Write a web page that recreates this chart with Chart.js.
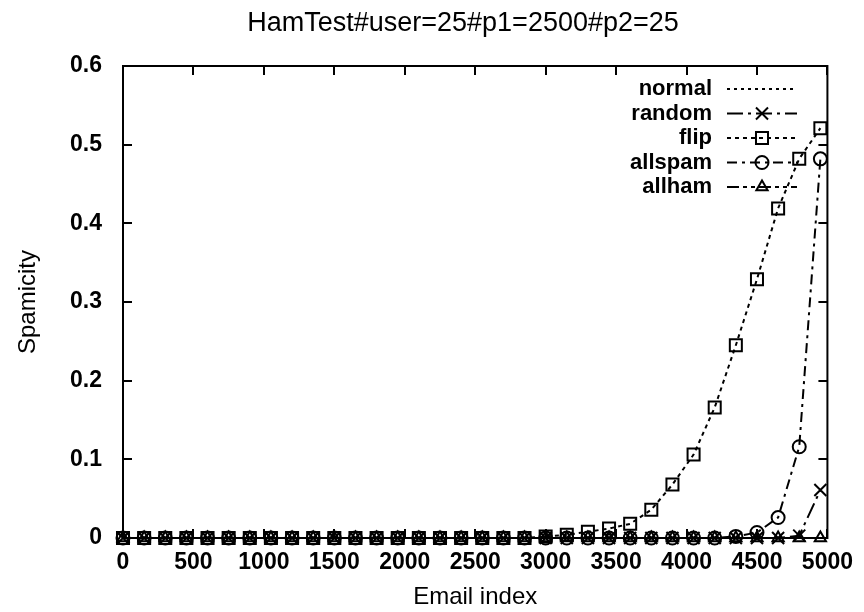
<!DOCTYPE html>
<html>
<head>
<meta charset="utf-8">
<script src="https://cdn.jsdelivr.net/npm/chart.js@4"></script>
<style>
  html, body { margin: 0; padding: 0; background: #fff; }
  #wrap { width: 864px; height: 612px; }
</style>
</head>
<body>
<div id="wrap"><canvas id="spamChart" width="864" height="612"></canvas></div>
<script>
// ── Data ──
const emailIndex = [0, 150, 300, 450, 600, 750, 900, 1050, 1200, 1350, 1500, 1650,
  1800, 1950, 2100, 2250, 2400, 2550, 2700, 2850, 3000, 3150, 3300, 3450, 3600,
  3750, 3900, 4050, 4200, 4350, 4500, 4650, 4800, 4950];

const normalVals = [0, 0, 0, 0, 0, 0, 0, 0, 0, 0, 0, 0, 0, 0, 0, 0, 0,
  0, 0, 0, 0, 0, 0, 0, 0, 0, 0, 0, 0, 0, 0, 0, 0, 0];
const randomVals = [0, 0, 0, 0, 0, 0, 0, 0, 0, 0, 0, 0, 0, 0, 0, 0, 0,
  0, 0, 0, 0, 0, 0, 0, 0, 0, 0, 0, 0, 0, 0, 0, 0.003, 0.061];
const flipVals = [0, 0, 0, 0, 0, 0, 0, 0, 0, 0, 0, 0, 0, 0, 0, 0, 0,
  0, 0, 0, 0.002, 0.004, 0.008, 0.012, 0.018, 0.036, 0.068, 0.106, 0.166,
  0.245, 0.329, 0.419, 0.482, 0.521];
const allspamVals = [0, 0, 0, 0, 0, 0, 0, 0, 0, 0, 0, 0, 0, 0, 0, 0, 0,
  0, 0, 0, 0, 0, 0, 0, 0, 0, 0, 0, 0, 0.002, 0.007, 0.026, 0.116, 0.482];
const allhamVals = [0, 0, 0, 0, 0, 0, 0, 0, 0, 0, 0, 0, 0, 0, 0, 0, 0,
  0, 0, 0, 0, 0, 0, 0, 0, 0, 0, 0, 0, 0, 0, 0, 0, 0];

const xTickVals = [0, 500, 1000, 1500, 2000, 2500, 3000, 3500, 4000, 4500, 5000];
const yTickVals = [0, 0.1, 0.2, 0.3, 0.4, 0.5, 0.6];
const yTickLabels = ['0', '0.1', '0.2', '0.3', '0.4', '0.5', '0.6'];

const chartTitle = 'HamTest#user=25#p1=2500#p2=25';
const FONT = "'Liberation Sans', Arial, Helvetica, sans-serif";

function pts(vals) {
  return vals.map((v, i) => ({ x: emailIndex[i], y: v }));
}

function series(label, vals, dash, style, radius) {
  return {
    label: label,
    data: pts(vals),
    borderColor: '#000',
    borderWidth: 2,
    borderDash: dash,
    backgroundColor: 'rgba(0,0,0,0)',
    pointStyle: style,
    pointRadius: radius,
    pointBorderWidth: 2,
    pointBorderColor: '#000',
    pointBackgroundColor: 'rgba(0,0,0,0)',
    tension: 0,
    fill: false,
    clip: false
  };
}

// ── Title, sits a little right of the page centre ──
const titlePlugin = {
  id: 'plotTitle',
  afterDraw(chart) {
    const ctx = chart.ctx;
    ctx.save();
    ctx.fillStyle = '#000';
    ctx.font = '27px ' + FONT;
    ctx.textAlign = 'center';
    ctx.textBaseline = 'middle';
    ctx.fillText(chartTitle, 463, 24);
    ctx.restore();
  }
};

// ── Frame with inward ticks on all four sides ──
const framePlugin = {
  id: 'frame',
  beforeDatasetsDraw(chart) {
    const ctx = chart.ctx;
    const a = chart.chartArea;
    const xs = chart.scales.x, ys = chart.scales.y;
    const len = 9;
    ctx.save();
    ctx.strokeStyle = '#000';
    ctx.lineWidth = 2;
    ctx.strokeRect(a.left, a.top, a.right - a.left, a.bottom - a.top);
    ctx.beginPath();
    xTickVals.forEach(v => {
      const px = Math.round(xs.getPixelForValue(v));
      ctx.moveTo(px, a.bottom); ctx.lineTo(px, a.bottom - len);
      ctx.moveTo(px, a.top); ctx.lineTo(px, a.top + len);
    });
    yTickVals.forEach(v => {
      const py = Math.round(ys.getPixelForValue(v));
      ctx.moveTo(a.left, py); ctx.lineTo(a.left + len, py);
      ctx.moveTo(a.right, py); ctx.lineTo(a.right - len, py);
    });
    ctx.stroke();
    ctx.restore();
  }
};

// ── Key, right aligned labels with line samples ──
const keyPlugin = {
  id: 'key',
  afterDraw(chart) {
    const ctx = chart.ctx;
    const textRight = 712, lineL = 727, lineR = 797;
    const top = 89, step = 24.5;
    ctx.save();
    chart.data.datasets.forEach((ds, i) => {
      const y = top + i * step;
      ctx.fillStyle = '#000';
      ctx.font = 'bold 22px ' + FONT;
      ctx.textAlign = 'right';
      ctx.textBaseline = 'middle';
      ctx.fillText(ds.label, textRight, y);
      ctx.strokeStyle = '#000';
      ctx.lineWidth = ds.borderWidth;
      ctx.setLineDash(ds.borderDash);
      ctx.beginPath();
      ctx.moveTo(lineL, y);
      ctx.lineTo(lineR, y);
      ctx.stroke();
      ctx.setLineDash([]);
      if (ds.pointRadius > 0 && Chart.helpers && Chart.helpers.drawPoint) {
        ctx.lineWidth = ds.pointBorderWidth;
        ctx.fillStyle = 'rgba(0,0,0,0)';
        Chart.helpers.drawPoint(ctx, {
          pointStyle: ds.pointStyle,
          radius: ds.pointRadius,
          borderWidth: ds.pointBorderWidth,
          rotation: 0
        }, (lineL + lineR) / 2, y);
      }
    });
    ctx.restore();
  }
};

const ctx = document.getElementById('spamChart').getContext('2d');
new Chart(ctx, {
  type: 'line',
  data: {
    datasets: [
      series('normal', normalVals, [3, 4], 'circle', 0),
      series('random', randomVals, [16, 5, 3, 5], 'crossRot', 8.5),
      series('flip', flipVals, [4, 4], 'rect', 8.5),
      series('allspam', allspamVals, [10, 5, 3, 5], 'circle', 6.5),
      series('allham', allhamVals, [12, 4, 4, 4, 4, 4], 'triangle', 6.5)
    ]
  },
  options: {
    responsive: false,
    animation: false,
    layout: { padding: { top: 66, right: 34, left: 0, bottom: 0 } },
    plugins: {
      legend: { display: false },
      tooltip: { enabled: false },
      title: { display: false }
    },
    scales: {
      x: {
        type: 'linear',
        min: 0,
        max: 5000,
        afterBuildTicks: s => { s.ticks = xTickVals.map(v => ({ value: v })); },
        afterFit: s => { s.height = 74; },
        grid: { display: false, drawTicks: false },
        border: { display: false },
        ticks: {
          padding: 11,
          color: '#000',
          maxRotation: 0,
          autoSkip: false,
          font: { family: FONT, size: 23, weight: 'bold' },
          callback: v => String(v)
        },
        title: {
          display: true,
          text: 'Email index',
          color: '#000',
          padding: 0,
          font: { family: FONT, size: 24, weight: 'normal' }
        }
      },
      y: {
        type: 'linear',
        min: 0,
        max: 0.6,
        afterBuildTicks: s => { s.ticks = yTickVals.map(v => ({ value: v })); },
        afterFit: s => { s.width = 123; },
        grid: { display: false, drawTicks: false },
        border: { display: false },
        ticks: {
          padding: 21,
          color: '#000',
          autoSkip: false,
          font: { family: FONT, size: 23, weight: 'bold' },
          callback: (v, i) => yTickLabels[yTickVals.indexOf(+v.toFixed(1))]
        },
        title: {
          display: true,
          text: 'Spamicity',
          color: '#000',
          padding: { top: 14, bottom: 0 },
          font: { family: FONT, size: 24, weight: 'normal' }
        }
      }
    }
  },
  plugins: [framePlugin, keyPlugin, titlePlugin]
});
</script>
</body>
</html>
